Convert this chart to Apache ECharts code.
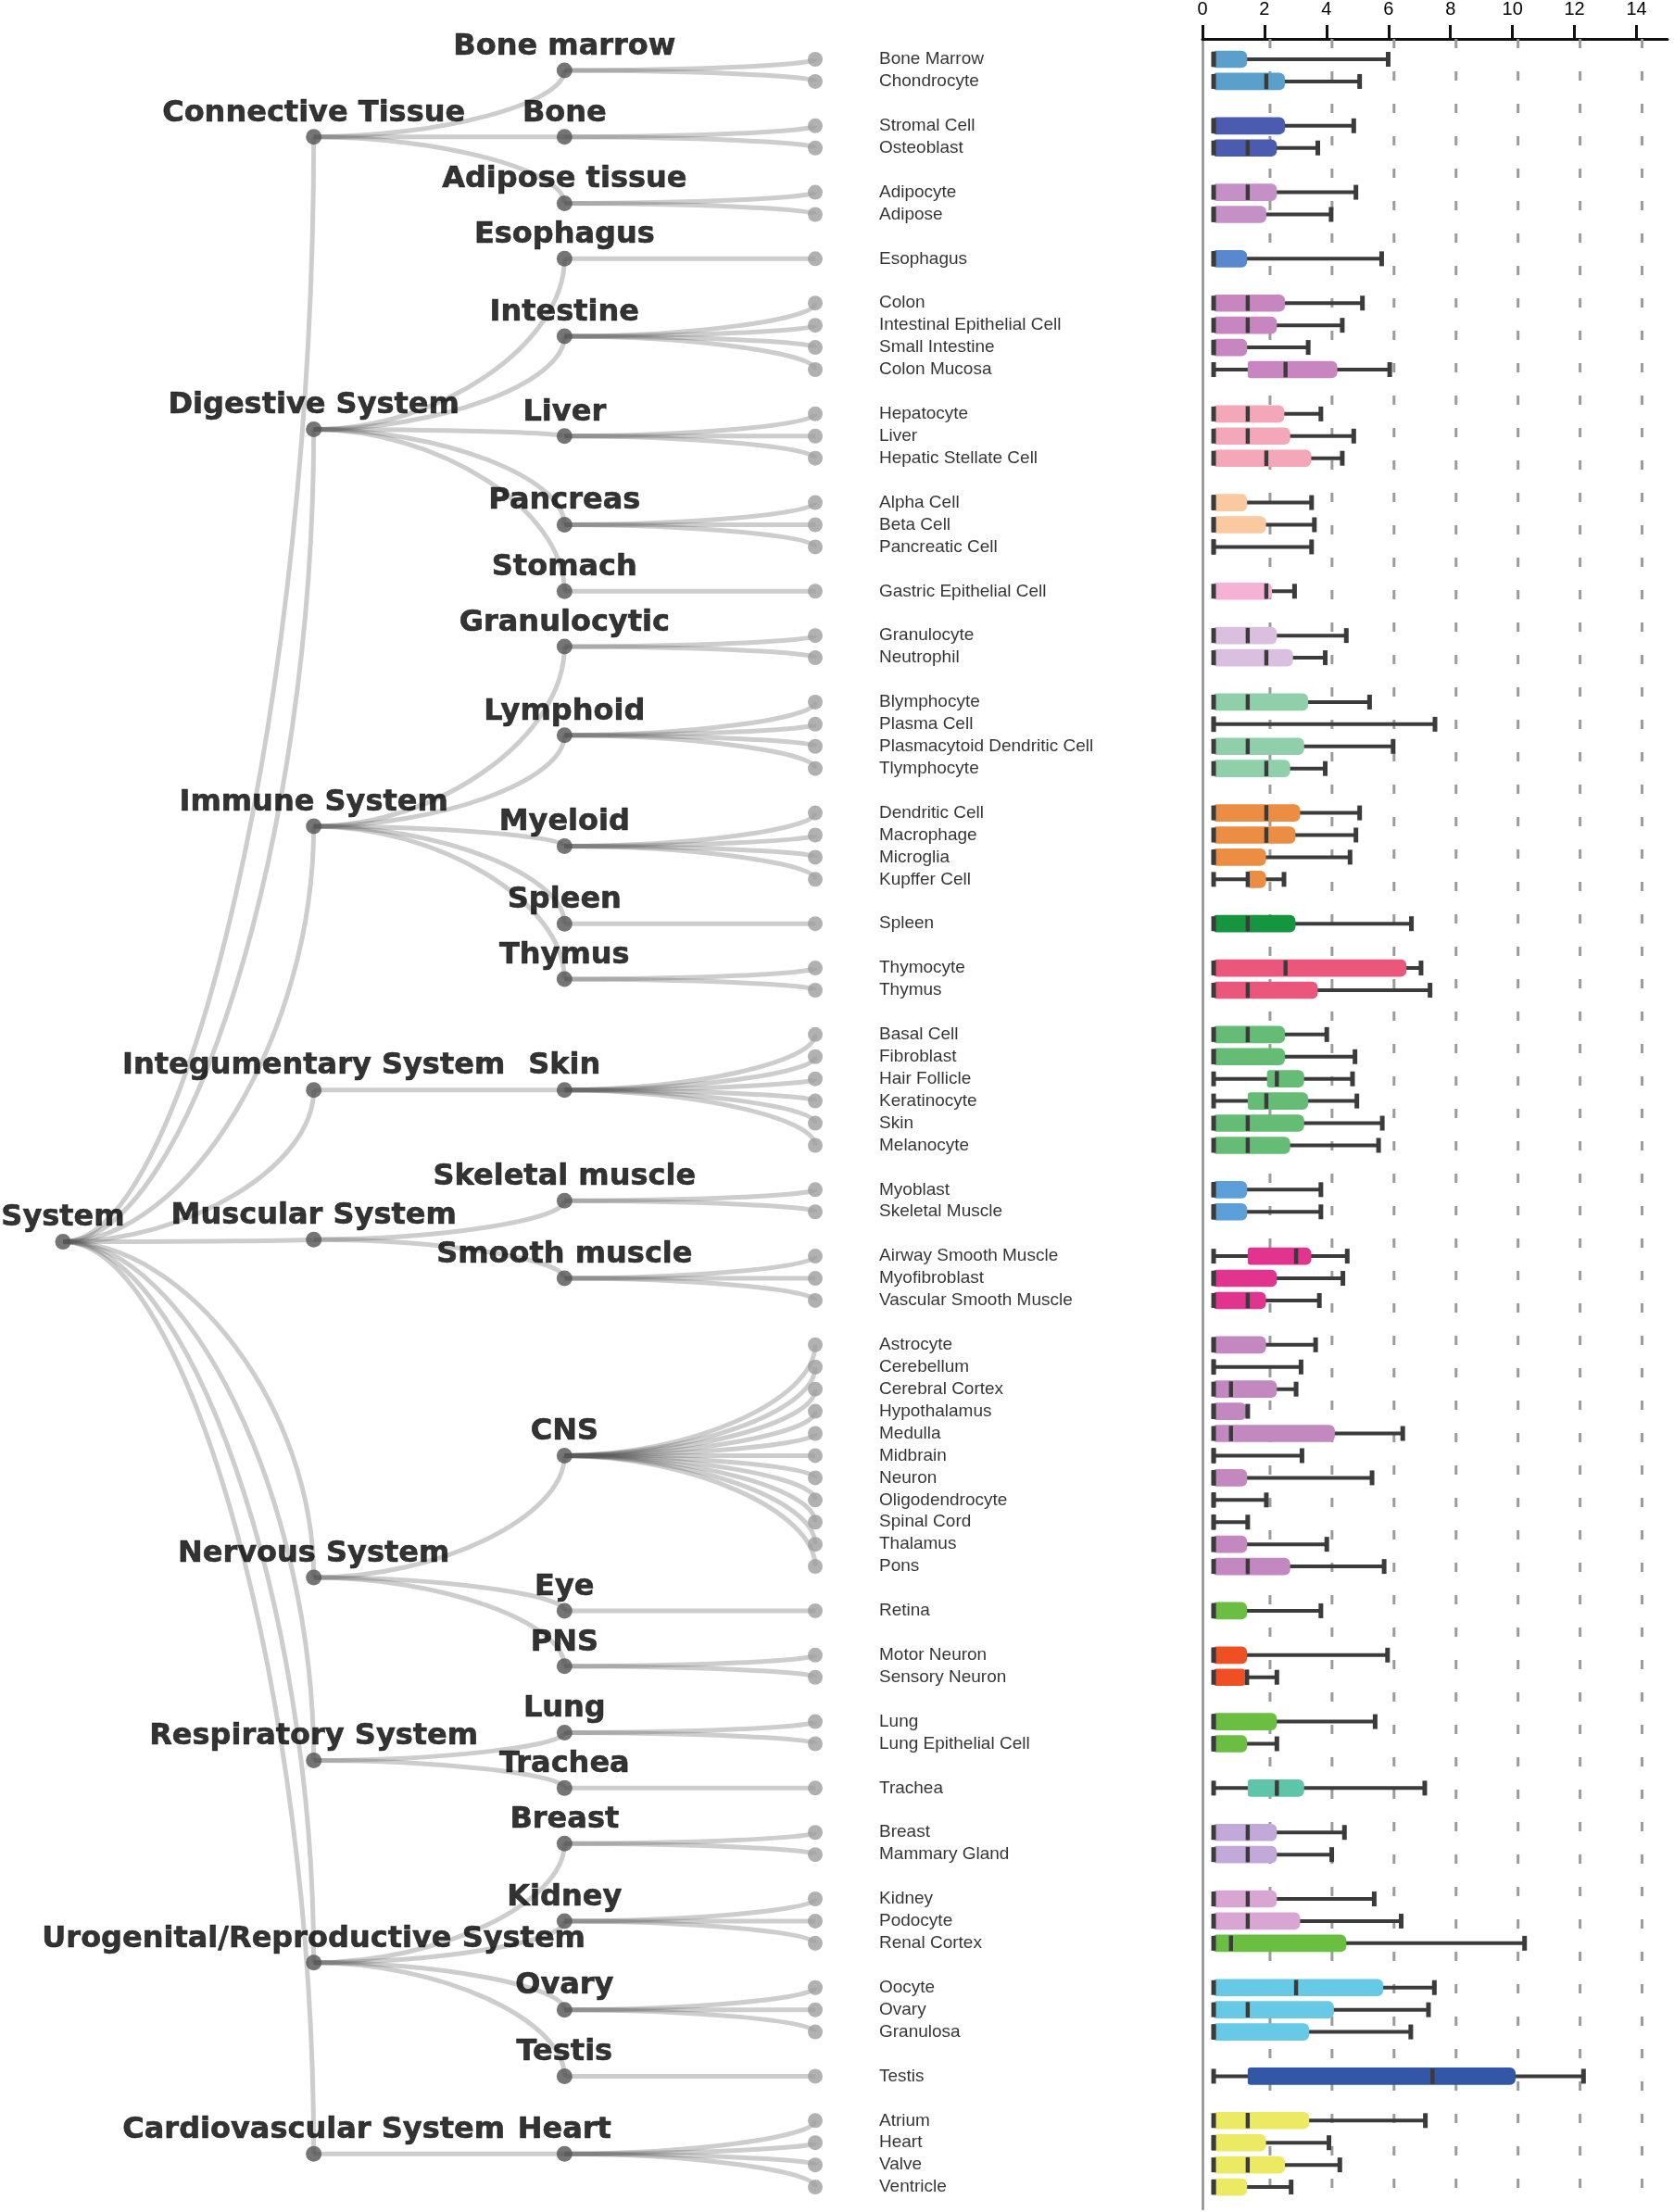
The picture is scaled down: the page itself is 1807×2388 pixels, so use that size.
<!DOCTYPE html>
<html>
<head>
<meta charset="utf-8">
<script src="https://cdn.jsdelivr.net/npm/echarts@6/dist/echarts.min.js"></script>
<style>
  html, body { margin: 0; padding: 0; background: #ffffff; }
  #chart { width: 1807px; height: 2388px; }
</style>
</head>
<body>
<div id="chart"></div>
<script>
// ---------------- data ----------------
const rootName = 'System';

const systemNames = [
  'Connective Tissue', 'Digestive System', 'Immune System', 'Integumentary System',
  'Muscular System', 'Nervous System', 'Respiratory System',
  'Urogenital/Reproductive System', 'Cardiovascular System'
];

const tissueNames = [
  'Bone marrow', 'Bone', 'Adipose tissue', 'Esophagus', 'Intestine', 'Liver', 'Pancreas',
  'Stomach', 'Granulocytic', 'Lymphoid', 'Myeloid', 'Spleen', 'Thymus', 'Skin',
  'Skeletal muscle', 'Smooth muscle', 'CNS', 'Eye', 'PNS', 'Lung', 'Trachea', 'Breast',
  'Kidney', 'Ovary', 'Testis', 'Heart'
];

// index into systemNames for each tissue
const tissueSystem = [0,0,0,1,1,1,1,1,2,2,2,2,2,3,4,4,5,5,5,6,6,7,7,7,7,8];

const cellNames = [
  'Bone Marrow', 'Chondrocyte', 'Stromal Cell', 'Osteoblast', 'Adipocyte', 'Adipose',
  'Esophagus', 'Colon', 'Intestinal Epithelial Cell', 'Small Intestine', 'Colon Mucosa',
  'Hepatocyte', 'Liver', 'Hepatic Stellate Cell', 'Alpha Cell', 'Beta Cell', 'Pancreatic Cell',
  'Gastric Epithelial Cell', 'Granulocyte', 'Neutrophil', 'Blymphocyte', 'Plasma Cell',
  'Plasmacytoid Dendritic Cell', 'Tlymphocyte', 'Dendritic Cell', 'Macrophage', 'Microglia',
  'Kupffer Cell', 'Spleen', 'Thymocyte', 'Thymus', 'Basal Cell', 'Fibroblast', 'Hair Follicle',
  'Keratinocyte', 'Skin', 'Melanocyte', 'Myoblast', 'Skeletal Muscle', 'Airway Smooth Muscle',
  'Myofibroblast', 'Vascular Smooth Muscle', 'Astrocyte', 'Cerebellum', 'Cerebral Cortex',
  'Hypothalamus', 'Medulla', 'Midbrain', 'Neuron', 'Oligodendrocyte', 'Spinal Cord', 'Thalamus',
  'Pons', 'Retina', 'Motor Neuron', 'Sensory Neuron', 'Lung', 'Lung Epithelial Cell', 'Trachea',
  'Breast', 'Mammary Gland', 'Kidney', 'Podocyte', 'Renal Cortex', 'Oocyte', 'Ovary',
  'Granulosa', 'Testis', 'Atrium', 'Heart', 'Valve', 'Ventricle'
];

// index into tissueNames for each cell
const cellTissue = [
  0,0, 1,1, 2,2, 3, 4,4,4,4, 5,5,5, 6,6,6, 7, 8,8, 9,9,9,9, 10,10,10,10, 11, 12,12,
  13,13,13,13,13,13, 14,14, 15,15,15, 16,16,16,16,16,16,16,16,16,16,16, 17, 18,18,
  19,19, 20, 21,21, 22,22,22, 23,23,23, 24, 25,25,25,25
];

const cellMin = [
  0.36,0.36,0.36,0.36,0.36,0.36,0.36,0.36,0.36,0.36,0.36,0.36,0.36,0.36,0.36,0.36,0.36,0.36,
  0.36,0.36,0.36,0.36,0.36,0.36,0.36,0.36,0.36,0.36,0.36,0.36,0.36,0.36,0.36,0.36,0.36,0.36,
  0.36,0.36,0.36,0.36,0.36,0.36,0.36,0.36,0.36,0.36,0.36,0.36,0.36,0.36,0.36,0.36,0.36,0.36,
  0.36,0.36,0.36,0.36,0.36,0.36,0.36,0.36,0.36,0.36,0.36,0.36,0.36,0.36,0.36,0.36,0.36,0.36
];
const cellQ1 = [
  0.36,0.36,0.36,0.36,0.36,0.36,0.36,0.36,0.36,0.36,1.46,0.36,0.36,0.36,0.36,0.36,0.36,0.36,
  0.36,0.36,0.36,0.36,0.36,0.36,0.36,0.36,0.36,1.46,0.36,0.36,0.36,0.36,0.36,2.08,1.46,0.36,
  0.36,0.36,0.36,1.46,0.36,0.36,0.36,0.36,0.36,0.36,0.36,0.36,0.36,0.36,0.36,0.36,0.36,0.36,
  0.36,0.36,0.36,0.36,1.46,0.36,0.36,0.36,0.36,0.36,0.36,0.36,0.36,1.46,0.36,0.36,0.36,0.36
];
const cellMedian = [
  0.36,2.06,0.36,1.46,1.46,0.36,0.36,1.46,1.46,0.36,2.68,1.46,1.46,2.06,0.36,0.36,0.36,2.06,
  1.46,2.06,1.46,0.36,1.46,2.06,2.06,2.06,0.36,1.46,1.46,2.68,1.46,1.46,0.36,2.40,2.06,1.46,
  1.46,0.36,0.36,3.02,0.36,1.46,0.36,0.36,0.92,0.36,0.92,0.36,0.36,0.36,0.36,0.36,1.46,0.36,
  0.36,1.44,0.36,0.36,2.40,1.46,1.46,1.46,1.46,0.92,3.02,1.46,0.36,7.42,1.46,0.36,1.46,0.36
];
const cellQ3 = [
  1.44,2.66,2.66,2.40,2.40,2.06,1.44,2.66,2.40,1.44,4.35,2.64,2.83,3.51,1.44,2.05,0.36,2.24,
  2.40,2.92,3.41,0.36,3.28,2.83,3.15,3.00,2.05,2.05,3.00,6.58,3.72,2.66,2.66,3.28,3.41,3.28,
  2.83,1.44,1.44,3.51,2.40,2.05,2.05,0.36,2.40,1.42,4.27,0.36,1.44,0.36,0.36,1.44,2.83,1.44,
  1.44,1.44,2.40,1.44,3.28,2.40,2.40,2.40,3.15,4.64,5.83,4.24,3.44,10.10,3.44,2.05,2.66,1.44
];
const cellMax = [
  5.99,5.07,4.88,3.72,4.95,4.15,5.78,5.16,4.51,3.41,6.04,3.82,4.88,4.51,3.52,3.61,3.52,2.97,
  4.64,3.96,5.39,7.50,6.15,3.96,5.07,4.95,4.76,2.63,6.74,7.05,7.34,4.01,4.92,4.84,4.98,5.80,
  5.68,3.82,3.82,4.67,4.53,3.77,3.65,3.18,3.02,1.46,6.46,3.21,5.47,2.06,1.46,4.01,5.86,3.82,
  5.97,2.40,5.57,2.40,7.17,4.58,4.17,5.54,6.41,10.39,7.48,7.29,6.72,12.29,7.19,4.08,4.43,2.86
];

const xTickValues = [0, 2, 4, 6, 8, 10, 12, 14];

// ---------------- styles ----------------
const cellColors = [
  '#5b9fcd','#5b9fcd','#4a5bb0','#4a5bb0','#c590c8','#c590c8','#5a88cf',
  '#c886c0','#c886c0','#c886c0','#c886c0','#f3a7b9','#f3a7b9','#f3a7b9',
  '#fbc9a0','#fbc9a0','#fbc9a0','#f6b2d4','#dabfe0','#dabfe0',
  '#8fd0aa','#8fd0aa','#8fd0aa','#8fd0aa','#eb8e43','#eb8e43','#eb8e43','#eb8e43',
  '#16953f','#ea577b','#ea577b','#65bc75','#65bc75','#65bc75','#65bc75','#65bc75','#65bc75',
  '#5ba0da','#5ba0da','#e2338f','#e2338f','#e2338f',
  '#c388bf','#c388bf','#c388bf','#c388bf','#c388bf','#c388bf','#c388bf','#c388bf','#c388bf','#c388bf','#c388bf',
  '#6abf43','#f04e23','#f04e23','#6abf43','#6abf43','#5ec5a8','#c2a9d9','#c2a9d9',
  '#d9a6d3','#d9a6d3','#6abf43','#67c9e5','#67c9e5','#67c9e5','#3157a6',
  '#ecea63','#ecea63','#ecea63','#ecea63'
];

// ---------------- layout (cluster tree: leaves stacked, parents at mean of children) ----------------
const cellSlot = [];
let slot = -1;
cellTissue.forEach((t, i) => {
  slot += (i > 0 && t !== cellTissue[i - 1]) ? 2 : 1;
  cellSlot.push(slot);
});
const nSlots = slot + 1;
const mean = a => a.reduce((p, c) => p + c, 0) / a.length;
const tissueSlot = tissueNames.map((_, t) => mean(cellSlot.filter((_, i) => cellTissue[i] === t)));
const systemSlot = systemNames.map((_, k) => mean(tissueSlot.filter((_, t) => tissueSystem[t] === k)));
const rootSlot = mean(systemSlot);

const links = [];
systemSlot.forEach(y => links.push([0, rootSlot, 1, y]));
tissueSlot.forEach((y, t) => links.push([1, systemSlot[tissueSystem[t]], 2, y]));
cellSlot.forEach((y, i) => links.push([2, tissueSlot[cellTissue[i]], 3, y]));

const innerNodes = [{ name: rootName, value: [0, rootSlot] }]
  .concat(systemNames.map((n, k) => ({ name: n, value: [1, systemSlot[k]] })))
  .concat(tissueNames.map((n, t) => ({ name: n, value: [2, tissueSlot[t]] })));
const leafNodes = cellNames.map((n, i) => ({ name: n, value: [3, cellSlot[i]] }));

const boxData = cellNames.map((n, i) => [cellSlot[i], cellMin[i], cellQ1[i], cellMedian[i], cellQ3[i], cellMax[i]]);

const Y_MIN = -0.92, Y_MAX = nSlots;
const DARK = '#3b3b3b';
const boldFont = {
  fontFamily: 'DejaVu Sans', fontWeight: 'bold', fontSize: 32, color: '#000',
  textBorderColor: '#000', textBorderWidth: 0.6
};

const chart = echarts.init(document.getElementById('chart'), null, { renderer: 'canvas' });

chart.setOption({
  animation: false,
  backgroundColor: '#ffffff',
  grid: [
    { left: 68, top: 42, width: 812, height: 2343 },
    { left: 1298, top: 42, width: 502, height: 2343 }
  ],
  xAxis: [
    { gridIndex: 0, type: 'value', min: 0, max: 3, show: false },
    {
      gridIndex: 1, type: 'value', min: 0, max: 15, interval: 2, position: 'top',
      axisLine: { show: true, onZero: false, lineStyle: { color: '#111', width: 3 } },
      axisTick: { show: true, length: 15, lineStyle: { color: '#111', width: 3 } },
      axisLabel: {
        show: true, margin: 22, fontSize: 20, fontFamily: 'Liberation Sans, Arial',
        color: '#000', showMaxLabel: false
      },
      splitLine: { show: false }
    }
  ],
  yAxis: [
    { gridIndex: 0, type: 'value', inverse: true, min: Y_MIN, max: Y_MAX, show: false },
    {
      gridIndex: 1, type: 'value', inverse: true, min: Y_MIN, max: Y_MAX,
      axisLine: { show: true, onZero: false, lineStyle: { color: '#8c8c8c', width: 2.5 } },
      axisTick: { show: false }, axisLabel: { show: false }, splitLine: { show: false }
    }
  ],
  series: [
    // tree links
    {
      type: 'custom', xAxisIndex: 0, yAxisIndex: 0, silent: true, z: 1,
      encode: { x: [0, 2], y: [1, 3] },
      data: links,
      renderItem: (params, api) => {
        const p0 = api.coord([api.value(0), api.value(1)]);
        const p1 = api.coord([api.value(2), api.value(3)]);
        return {
          type: 'bezierCurve',
          shape: {
            x1: p0[0], y1: p0[1], x2: p1[0], y2: p1[1],
            cpx1: (p0[0] + p1[0]) / 2, cpy1: p0[1],
            cpx2: p1[0], cpy2: (p0[1] + p1[1]) / 2
          },
          style: { stroke: 'rgba(90,90,90,0.3)', lineWidth: 5, fill: null }
        };
      }
    },
    // inner nodes with bold labels
    {
      type: 'scatter', xAxisIndex: 0, yAxisIndex: 0, z: 4, silent: true,
      symbolSize: 17, itemStyle: { color: '#525252' },
      data: innerNodes,
      label: Object.assign({ show: true, position: 'top', distance: 0, lineHeight: 34, formatter: '{b}' }, boldFont)
    },
    // leaves with cell labels
    {
      type: 'scatter', xAxisIndex: 0, yAxisIndex: 0, z: 4, silent: true,
      symbolSize: 16, itemStyle: { color: '#9d9d9d' },
      data: leafNodes,
      label: {
        show: true, position: 'right', distance: 61, formatter: '{b}',
        fontFamily: 'Liberation Sans, Arial', fontSize: 19, color: '#000'
      }
    },
    // dashed grid lines
    {
      type: 'custom', xAxisIndex: 1, yAxisIndex: 1, silent: true, z: 1,
      encode: { x: 0, y: 1 },
      data: xTickValues.filter(v => v > 0).map(v => [v, 0]),
      renderItem: (params, api) => {
        const cs = params.coordSys;
        const x = api.coord([api.value(0), 0])[0] + 6;
        return {
          type: 'line',
          shape: { x1: x, y1: cs.y, x2: x, y2: cs.y + cs.height },
          style: { stroke: '#9b9b9b', lineWidth: 3, lineDash: [10, 25] }
        };
      }
    },
    // box plots
    {
      type: 'custom', xAxisIndex: 1, yAxisIndex: 1, silent: true, z: 3,
      encode: { x: [1, 2, 3, 4, 5], y: 0 },
      data: boxData,
      renderItem: (params, api) => {
        const y = api.value(0);
        const pMin = api.coord([api.value(1), y]);
        const xQ1 = api.coord([api.value(2), y])[0];
        const xMed = api.coord([api.value(3), y])[0];
        const xQ3 = api.coord([api.value(4), y])[0];
        const xMax = api.coord([api.value(5), y])[0];
        const cy = pMin[1];
        const bh = api.size([0, 1])[1] * 0.78;
        const children = [
          { type: 'line', shape: { x1: pMin[0], y1: cy, x2: xMax, y2: cy }, style: { stroke: DARK, lineWidth: 4 } }
        ];
        if (xQ3 - xQ1 > 1) {
          children.push({
            type: 'rect',
            shape: { x: xQ1, y: cy - bh / 2, width: xQ3 - xQ1, height: bh, r: [3, 6, 6, 3] },
            style: { fill: cellColors[params.dataIndex] }
          });
        }
        children.push({ type: 'rect', shape: { x: xMed - 2.2, y: cy - bh / 2 + 1, width: 4.4, height: bh - 2 }, style: { fill: DARK } });
        children.push({ type: 'rect', shape: { x: pMin[0] - 2.5, y: cy - 8, width: 5, height: 16 }, style: { fill: DARK } });
        children.push({ type: 'rect', shape: { x: xMax - 2.5, y: cy - 8, width: 5, height: 16 }, style: { fill: DARK } });
        return { type: 'group', children: children };
      }
    }
  ]
});
</script>
</body>
</html>
